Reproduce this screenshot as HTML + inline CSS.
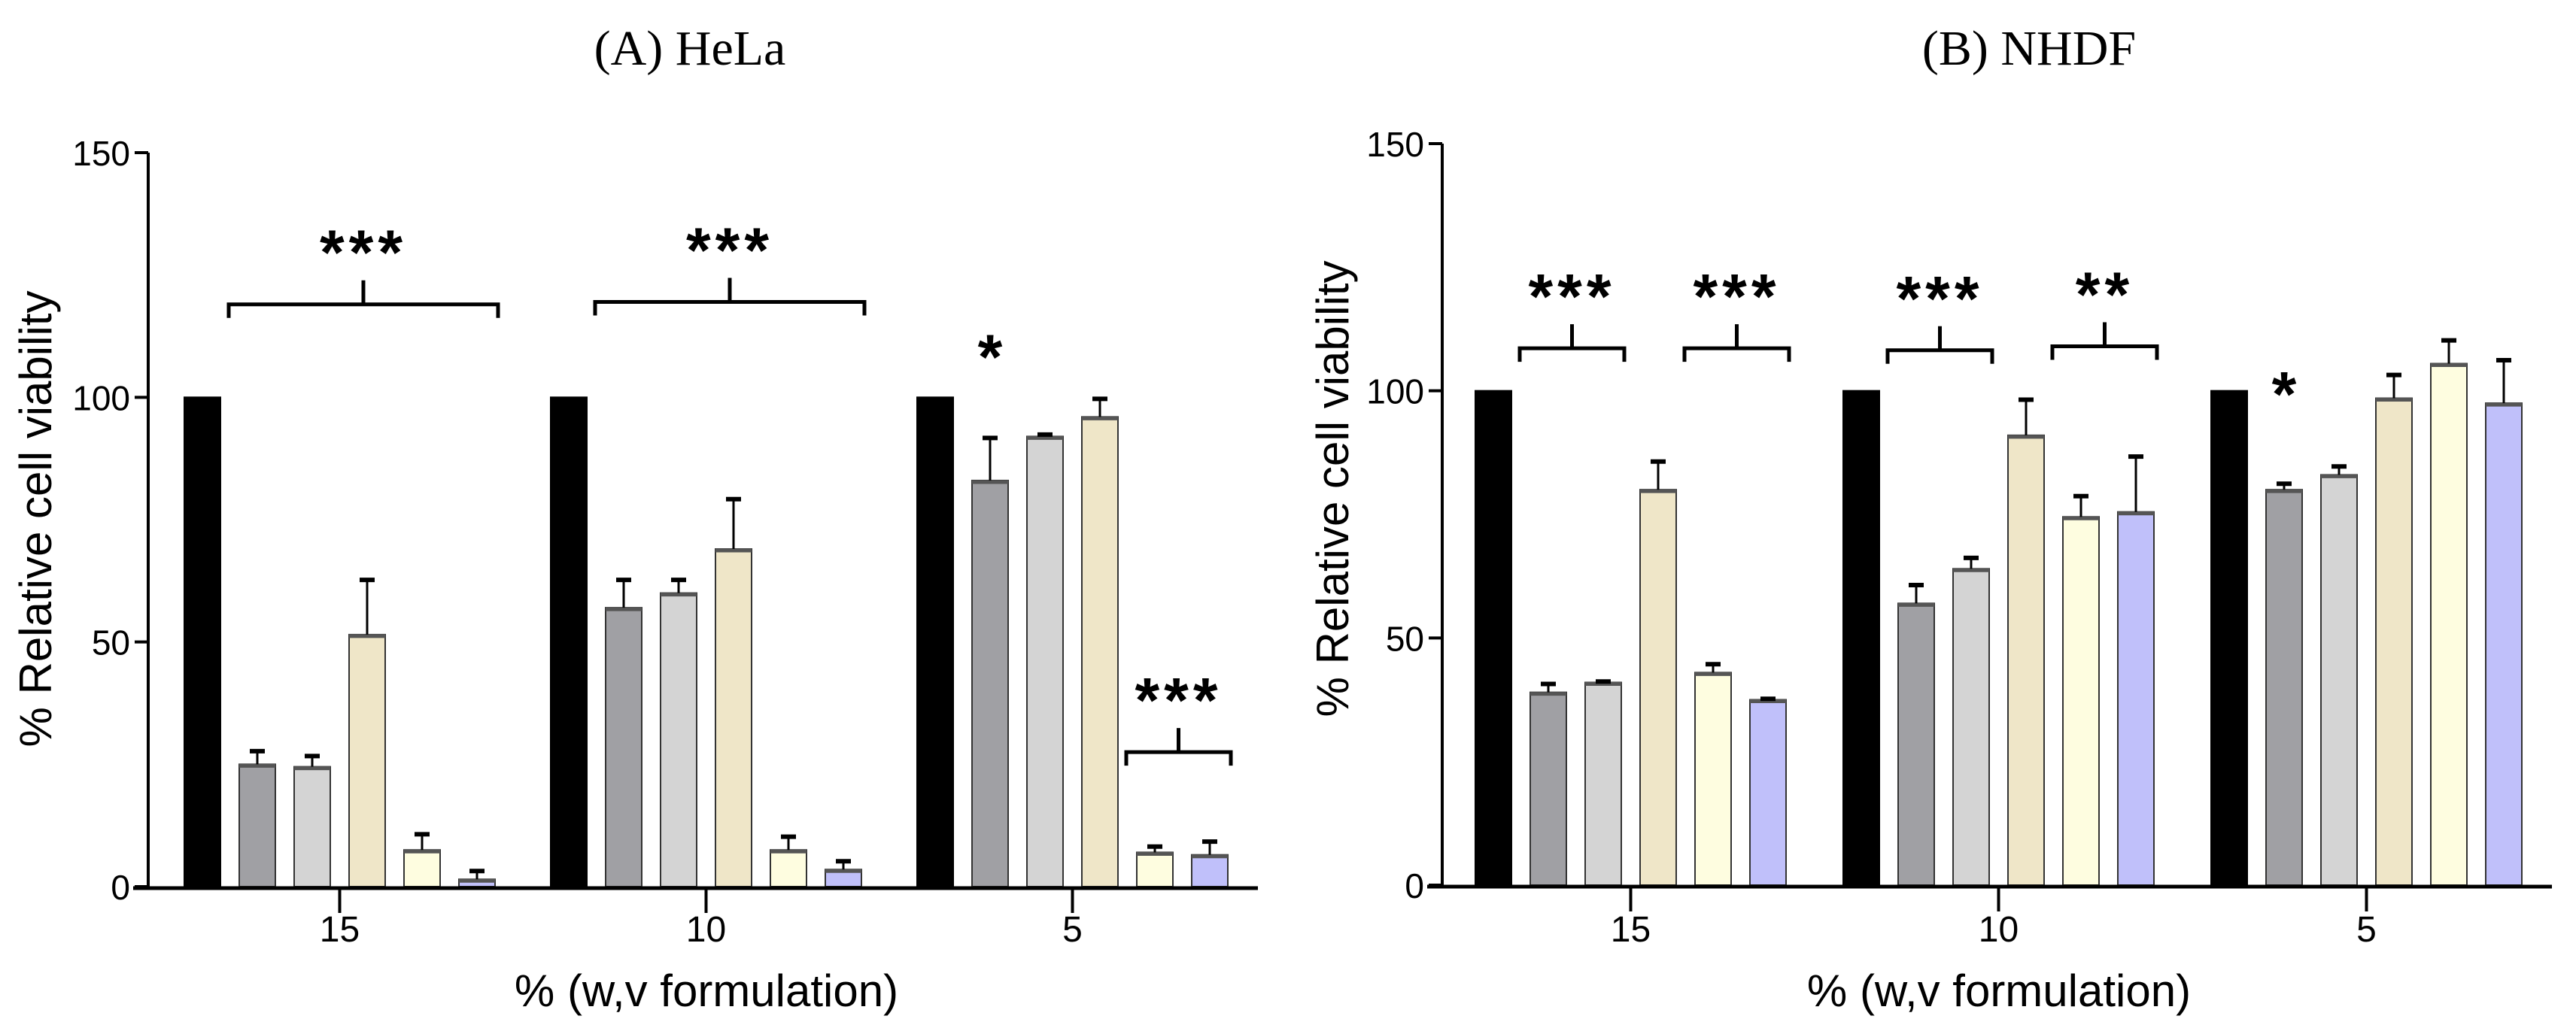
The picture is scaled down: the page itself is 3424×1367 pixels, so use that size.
<!DOCTYPE html>
<html><head><meta charset="utf-8"><style>
html,body{margin:0;padding:0;background:#fff;}
svg{display:block;}
</style></head><body>
<svg id="fig" width="3424" height="1367" viewBox="0 0 3424 1367" xmlns="http://www.w3.org/2000/svg">
<text x="917" y="86" text-anchor="middle" font-family="Liberation Serif, serif" font-size="66">(A) HeLa</text>
<text x="2697" y="86" text-anchor="middle" font-family="Liberation Serif, serif" font-size="66">(B) NHDF</text>
</svg>
<script>
const categories = ["15", "10", "5"];
const yTicks = [0, 50, 100, 150];
const colors = ["#000000", "#a0a0a4", "#d4d4d4", "#efe6c8", "#fefde0", "#c0c0fa"];
const helaValues = [[100, 25, 24.5, 51.5, 7.5, 1.5],[100, 57, 60, 69, 7.5, 3.5],[100, 83, 92, 96, 7, 6.5]];
const helaErrors = [[0, 3, 2.5, 11.5, 3.5, 2],[0, 6, 3, 10.5, 3, 2],[0, 9, 0.7, 4, 1.5, 3]];
const nhdfValues = [[100, 39, 41, 80, 43, 37.5],[100, 57, 64, 91, 74.5, 75.5],[100, 80, 83, 98.5, 105.5, 97.5]];
const nhdfErrors = [[0, 2, 0.5, 6, 2, 0.5],[0, 4, 2.5, 7.5, 4.5, 11.5],[0, 1.5, 2, 5, 5, 9]];
// brackets: [group, firstBar, lastBar, yValue, label]
const helaBrackets = [[0, 1, 5, 119, "***"], [1, 1, 5, 119.5, "***"], [2, 4, 5, 27.5, "***"]];
const helaStars = [[2, 1, 110, "*"]];
const nhdfBrackets = [[0, 1, 2, 108.6, "***"], [0, 4, 5, 108.6, "***"], [1, 1, 2, 108.2, "***"], [1, 4, 5, 109, "**"]];
const nhdfStars = [[2, 1, 101, "*"]];

const NS = "http://www.w3.org/2000/svg";
const svg = document.getElementById('fig');
function mk(tag, attrs, parent) {
  const e = document.createElementNS(NS, tag);
  for (const k in attrs) e.setAttribute(k, attrs[k]);
  (parent || svg).appendChild(e);
  return e;
}

function drawPanel(p) {
  const g = mk('g', {});
  
  
  const y = v => p.y0 - (v / 150) * (p.y0 - p.y150);
  const groupStart = gi => p.firstBar + gi * p.groupStep;
  const barX = (gi, bi) => groupStart(gi) + bi * p.barStep;
  const bw = p.barW;
  p.values.forEach((grp, gi) => {
    grp.forEach((v, bi) => {
      const x = barX(gi, bi);
      const r = mk('rect', {x: x, y: y(v), width: bw, height: y(0) - y(v), fill: colors[bi], stroke: bi === 0 ? '#000' : '#333', 'stroke-width': 2}, g);
      
      
      if (bi > 0) {
        mk('line', {x1: x, x2: x + bw, y1: y(v) + 2, y2: y(v) + 2, stroke: '#555', 'stroke-width': 5}, g);
      }
      const e = p.errors[gi][bi];
      if (e > 0) {
        const cx = x + bw / 2;
        const eb = mk('line', {x1: cx, x2: cx, y1: y(v), y2: y(v + e), stroke: '#000', 'stroke-width': 3}, g);
        
        
        mk('line', {x1: cx - 10, x2: cx + 10, y1: y(v + e) + 2, y2: y(v + e) + 2, stroke: '#000', 'stroke-width': 6}, g);
      }
    });
  });
  const ya = mk('line', {x1: p.axX, x2: p.axX, y1: y(150), y2: y(0), stroke: '#000', 'stroke-width': 4}, g);
  
  
  const xa = mk('line', {x1: p.axX - 20, x2: p.axEnd, y1: y(0) + 2, y2: y(0) + 2, stroke: '#000', 'stroke-width': 5}, g);
  
  
  yTicks.forEach(t => {
    mk('line', {x1: p.axX - 18, x2: p.axX, y1: y(t), y2: y(t), stroke: '#000', 'stroke-width': 4}, g);
    const tl = mk('text', {x: p.axX - 24, y: y(t) + 17, 'text-anchor': 'end', 'font-family': 'Liberation Sans, sans-serif', 'font-size': 46}, g);
    tl.textContent = t;
    
    
  });
  categories.forEach((c, gi) => {
    const cx = groupStart(gi) + (5 * p.barStep + bw) / 2;
    mk('line', {x1: cx, x2: cx, y1: y(0), y2: y(0) + 35, stroke: '#000', 'stroke-width': 4}, g);
    const tl = mk('text', {x: cx, y: 1252, 'text-anchor': 'middle', 'font-family': 'Liberation Sans, sans-serif', 'font-size': 48}, g);
    tl.textContent = c;
    
    
  });
  const xt = mk('text', {x: p.xTitleX, y: 1338, 'text-anchor': 'middle', 'font-family': 'Liberation Sans, sans-serif', 'font-size': 60}, g);
  xt.textContent = '% (w,v formulation)';
  
  
  const yt = mk('text', {x: 0, y: 0, 'text-anchor': 'middle', 'font-family': 'Liberation Sans, sans-serif', 'font-size': 60, transform: 'translate(' + p.yTitleX + ',' + p.yTitleY + ') rotate(-90)'}, g);
  yt.textContent = '% Relative cell viability';
  
  
  p.brackets.forEach(b => {
    const x1 = barX(b[0], b[1]) - 14, x2 = barX(b[0], b[2]) + bw + 4;
    const by = y(b[3]), mid = (x1 + x2) / 2;
    const br = mk('path', {d: 'M' + x1 + ',' + (by + 18) + ' V' + by + ' H' + x2 + ' V' + (by + 18) + ' M' + mid + ',' + by + ' V' + (by - 32), fill: 'none', stroke: '#000', 'stroke-width': 5}, g);
    
    
    const st = mk('text', {x: mid, y: by - 40, 'text-anchor': 'middle', 'font-family': 'Liberation Sans, sans-serif', 'font-size': 84, 'font-weight': 'bold', 'letter-spacing': 6}, g);
    st.textContent = b[4];
    
    
  });
  p.stars.forEach(s => {
    const st = mk('text', {x: barX(s[0], s[1]) + bw / 2, y: y(s[2]) + 40, 'text-anchor': 'middle', 'font-family': 'Liberation Sans, sans-serif', 'font-size': 84, 'font-weight': 'bold'}, g);
    st.textContent = s[3];
    
    
  });
}

drawPanel({name: 'hela-chart', values: helaValues, errors: helaErrors, brackets: helaBrackets, stars: helaStars,
  y0: 1179, y150: 203, axX: 197, axEnd: 1672, firstBar: 245, groupStep: 487, barStep: 73, barW: 48,
  xTitleX: 939, yTitleX: 68, yTitleY: 690});
drawPanel({name: 'nhdf-chart', values: nhdfValues, errors: nhdfErrors, brackets: nhdfBrackets, stars: nhdfStars,
  y0: 1177, y150: 191, axX: 1917, axEnd: 3392, firstBar: 1961, groupStep: 489, barStep: 73, barW: 48,
  xTitleX: 2657, yTitleX: 1792, yTitleY: 650});
</script>
</body></html>
